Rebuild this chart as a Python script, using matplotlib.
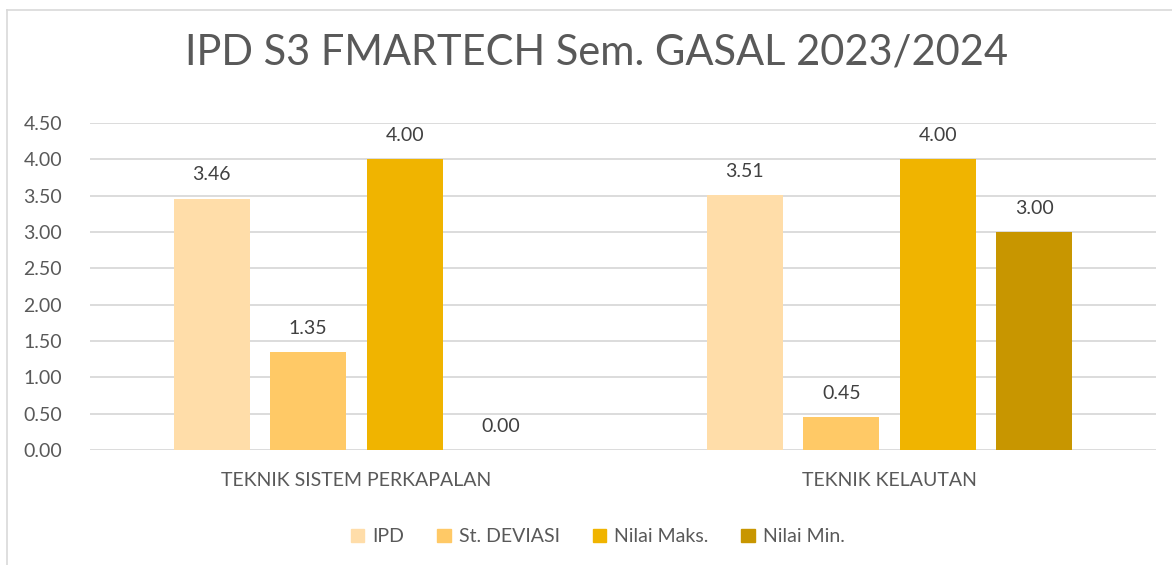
import numpy as np
import matplotlib.pyplot as plt
from matplotlib.lines import Line2D

categories = ['TEKNIK SISTEM PERKAPALAN', 'TEKNIK KELAUTAN']
series = ['IPD', 'St. DEVIASI', 'Nilai Maks.', 'Nilai Min.']
ipd = [3.46, 3.51]
st_dev = [1.35, 0.45]
nilai_maks = [4.00, 4.00]
nilai_min = [0.00, 3.00]
colors = ['#FFDDA9', '#FFC966', '#F0B400', '#C89600']

plt.rcParams['font.family'] = ['Lato', 'DejaVu Sans']
text_color = '#595959'

fig = plt.figure(figsize=(11.72, 5.65), dpi=100)
ax = fig.add_axes([0.0768, 0.2035, 0.9095, 0.5788])

x = np.arange(len(categories))
step = 0.181
width = 0.143
values = [ipd, st_dev, nilai_maks, nilai_min]
for i, (name, vals) in enumerate(zip(series, values)):
    pos = x + (i - 1.5) * step
    ax.bar(pos, vals, width, color=colors[i], label=name, zorder=3)
    for p, v in zip(pos, vals):
        ax.annotate(f'{v:.2f}', (p, v), xytext=(0, 11), textcoords='offset points',
                    ha='center', va='bottom', fontsize=14, color='#404040')

ax.set_xlim(-0.5, 1.5)
ax.set_ylim(0, 4.5)
ax.set_yticks(np.arange(0, 4.51, 0.5))
ax.set_yticklabels([f'{t:.2f}' for t in np.arange(0, 4.51, 0.5)])
ax.set_xticks(x)
ax.set_xticklabels(categories)
ax.grid(axis='y', color='#D9D9D9', linewidth=1.3, zorder=0)
for s in ax.spines.values():
    s.set_visible(False)
ax.tick_params(axis='both', length=0, colors=text_color, labelsize=14)
ax.tick_params(axis='y', pad=20)
ax.tick_params(axis='x', pad=16)

fig.suptitle('IPD S3 FMARTECH Sem. GASAL 2023/2024', x=0.509, y=0.94,
             fontsize=30, color=text_color)

handles = [plt.Rectangle((0, 0), 1, 1, color=c) for c in colors]
fig.legend(handles, series, loc='center', bbox_to_anchor=(0.51, 0.05), ncol=4,
           frameon=False, fontsize=14, labelcolor=text_color,
           handlelength=0.7, handleheight=0.7, handletextpad=0.4, columnspacing=1.7)

# outer chart border (left and top edges are visible)
fig.add_artist(Line2D([7 / 1172, 7 / 1172], [0, 1 - 10 / 565], color='#D9D9D9', lw=1.2))
fig.add_artist(Line2D([7 / 1172, 1], [1 - 10 / 565, 1 - 10 / 565], color='#D9D9D9', lw=1.2))

fig.savefig('out.png', dpi=100, facecolor='white')
